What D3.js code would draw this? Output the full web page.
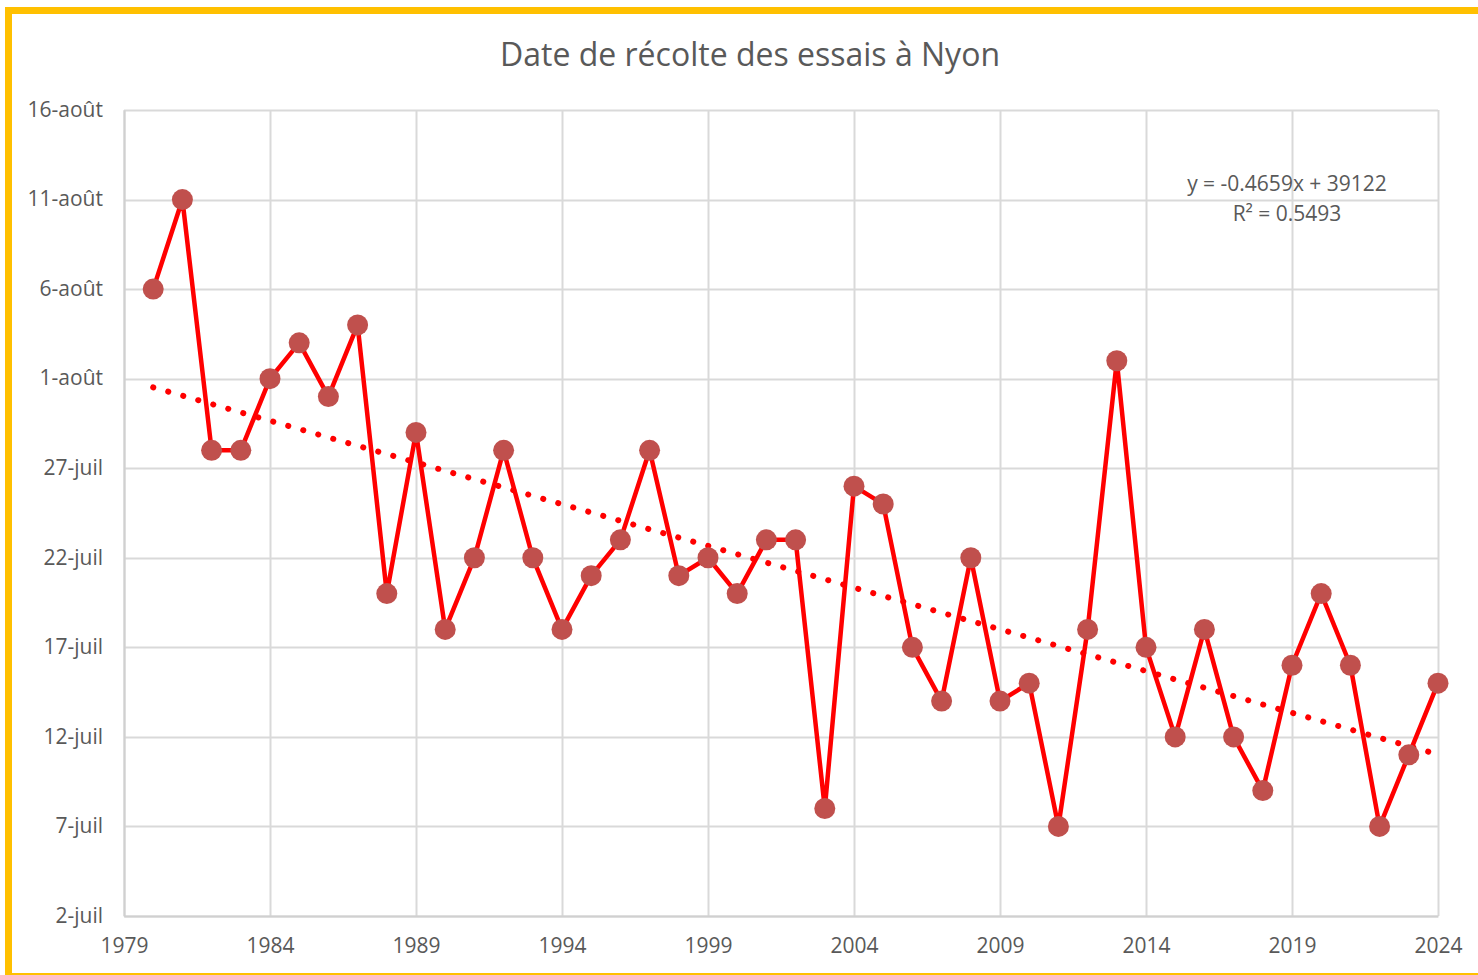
<!DOCTYPE html>
<html>
<head>
<meta charset="utf-8">
<script src="https://cdnjs.cloudflare.com/ajax/libs/d3/7.8.5/d3.min.js"></script>
<style>
  body { margin: 0; background: #fff; }
  text { font-family: "Open Sans", sans-serif; fill: #595959; }
</style>
</head>
<body>
<div id="chart"></div>
<script>
// years 1980..2024, harvest dates (day / month, all put in the same year)
var years = d3.range(1980, 2025);
var harvestDates = [
  "6/8", "11/8", "28/7", "28/7", "1/8", "3/8", "31/7", "4/8", "20/7", "29/7",
  "18/7", "22/7", "28/7", "22/7", "18/7", "21/7", "23/7", "28/7", "21/7", "22/7",
  "20/7", "23/7", "23/7", "8/7", "26/7", "25/7", "17/7", "14/7", "22/7", "14/7",
  "15/7", "7/7", "18/7", "2/8", "17/7", "12/7", "18/7", "12/7", "9/7", "16/7",
  "20/7", "16/7", "7/7", "11/7", "15/7"
];
var yTickLabels = ["2-juil", "7-juil", "12-juil", "17-juil", "22-juil", "27-juil", "1-août", "6-août", "11-août", "16-août"];
var xTickYears = [1979, 1984, 1989, 1994, 1999, 2004, 2009, 2014, 2019, 2024];
var equationText = ["y = -0.4659x + 39122", "R\u00b2 = 0.5493"];

var W = 1478, H = 975;
var margin = {top: 110, right: 40, bottom: 59, left: 124};
var width = 1438 - margin.left,
    height = 916 - margin.top;

var parse = d3.timeParse("%d/%m/%Y");
var data = years.map(function(y, i) {
  return {year: y, date: parse(harvestDates[i] + "/2000")};
});

var svg = d3.select("#chart").append("svg")
    .attr("width", W)
    .attr("height", H);

// orange frame
svg.append("rect")
    .attr("x", 8.5).attr("y", 10.5)
    .attr("width", W + 20).attr("height", 990)
    .attr("fill", "#fff")
    .attr("stroke", "#FFC000")
    .attr("stroke-width", 7);
svg.append("line")
    .attr("x1", 5).attr("x2", W).attr("y1", 974).attr("y2", 974)
    .attr("stroke", "#FFC000").attr("stroke-width", 2);

svg.append("text")
    .attr("x", 750).attr("y", 66)
    .attr("text-anchor", "middle")
    .style("font-size", "32px")
    .text("Date de récolte des essais à Nyon");

var g = svg.append("g")
    .attr("transform", "translate(" + margin.left + "," + margin.top + ")");

var x = d3.scaleLinear().domain([1979, 2024]).range([0, width]);
var y = d3.scaleTime()
    .domain([parse("2/7/2000"), parse("16/8/2000")])
    .range([height, 0]);

var yTicks = yTickLabels.map(function(l, i) {
  return d3.timeDay.offset(parse("2/7/2000"), i * 5);
});

// gridlines
g.append("g").selectAll("line")
    .data(yTicks)
  .enter().append("line")
    .attr("x1", 0).attr("x2", width)
    .attr("y1", function(d) { return Math.round(y(d)) + 0.5; })
    .attr("y2", function(d) { return Math.round(y(d)) + 0.5; })
    .attr("stroke", "#d9d9d9").attr("stroke-width", 2);
g.append("g").selectAll("line")
    .data(xTickYears)
  .enter().append("line")
    .attr("x1", function(d) { return Math.round(x(d)) + 0.5; })
    .attr("x2", function(d) { return Math.round(x(d)) + 0.5; })
    .attr("y1", 0).attr("y2", height)
    .attr("stroke", "#d9d9d9").attr("stroke-width", 2);

// axes
var yAxis = g.append("g")
    .call(d3.axisLeft(y).tickValues(yTicks).tickSize(0).tickPadding(21)
      .tickFormat(function(d, i) { return yTickLabels[i]; }));
yAxis.select(".domain").attr("stroke", "#d0d0d0").attr("stroke-width", 2);
yAxis.selectAll("text").style("font-size", "21px").attr("fill", "#595959").attr("dy", "0.3em");

var xAxis = g.append("g")
    .attr("transform", "translate(0," + height + ")")
    .call(d3.axisBottom(x).tickValues(xTickYears).tickSize(0).tickPadding(22)
      .tickFormat(d3.format("d")));
xAxis.select(".domain").attr("stroke", "#d0d0d0").attr("stroke-width", 2);
xAxis.selectAll("text").style("font-size", "21px").attr("fill", "#595959");

// linear trend (least squares on day values)
var xs = data.map(function(d) { return d.year; });
var ys = data.map(function(d) { return +d.date; });
var mx = d3.mean(xs), my = d3.mean(ys);
var slope = d3.sum(xs, function(v, i) { return (v - mx) * (ys[i] - my); }) /
            d3.sum(xs, function(v) { return (v - mx) * (v - mx); });
var trend = [1980, 2024].map(function(v) {
  return {year: v, date: new Date(my + slope * (v - mx))};
});

var line = d3.line()
    .x(function(d) { return x(d.year); })
    .y(function(d) { return y(d.date); });

g.append("path")
    .datum(trend)
    .attr("d", line)
    .attr("fill", "none")
    .attr("stroke", "#FF0000")
    .attr("stroke-width", 6)
    .attr("stroke-linecap", "round")
    .attr("stroke-dasharray", "0.1 15.5");

g.append("path")
    .datum(data)
    .attr("d", line)
    .attr("fill", "none")
    .attr("stroke", "#FF0000")
    .attr("stroke-width", 4.5)
    .attr("stroke-linejoin", "round");

g.selectAll(".dot")
    .data(data)
  .enter().append("circle")
    .attr("class", "dot")
    .attr("cx", function(d) { return x(d.year); })
    .attr("cy", function(d) { return y(d.date); })
    .attr("r", 10.5)
    .attr("fill", "#C0504D");

// equation label
svg.append("g").selectAll("text")
    .data(equationText)
  .enter().append("text")
    .attr("x", 1287)
    .attr("y", function(d, i) { return 191 + i * 30; })
    .attr("text-anchor", "middle")
    .style("font-size", "21px")
    .text(function(d) { return d; });
</script>
</body>
</html>
